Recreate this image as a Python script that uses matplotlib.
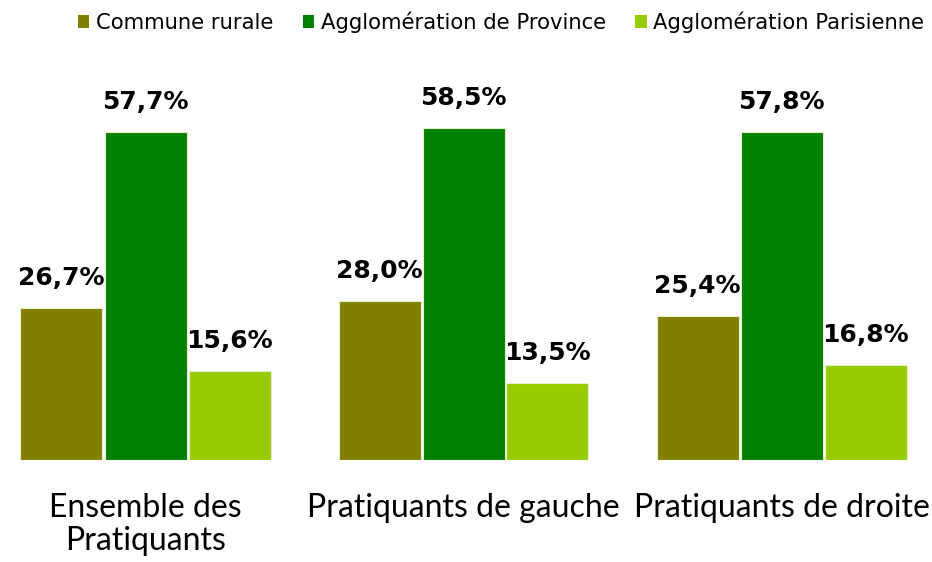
import matplotlib
matplotlib.use("Agg")
import matplotlib.pyplot as plt
import numpy as np
from matplotlib.patches import Patch

categories = ["Ensemble des\nPratiquants", "Pratiquants de gauche", "Pratiquants de droite"]
series_names = ["Commune rurale", "Agglomération de Province", "Agglomération Parisienne"]
rurale = [26.7, 28.0, 25.4]
province = [57.7, 58.5, 57.8]
parisienne = [15.6, 13.5, 16.8]
colors = ["#808000", "#008000", "#99CC00"]

fig = plt.figure(figsize=(9.32, 5.62), dpi=100)
W, H = 932, 562
left_px, right_px = 2.4, 924.6
base_px = 460
top_px = base_px - 70 * 5.68
ax = fig.add_axes([left_px / W, (H - base_px) / H, (right_px - left_px) / W, (base_px - top_px) / H])

x = np.arange(len(categories))
step = 84 / 318
width = 82 / 318
for i, (vals, c) in enumerate(zip([rurale, province, parisienne], colors)):
    pos = x + (i - 1) * step
    ax.bar(pos, vals, width, color=c, edgecolor="#e8f0c8", linewidth=0.8, label=series_names[i])
    for p, v in zip(pos, vals):
        ax.annotate(f"{v:.1f}%".replace(".", ","), (p, v), xytext=(0, 13), textcoords="offset points",
                    ha="center", va="bottom", fontsize=18, fontweight="bold", color="black")

ax.set_xlim(-0.45, 2.45)
ax.set_ylim(0, 70)
ax.set_xticks(x)
ax.set_xticklabels(categories, fontsize=23, family="Lato", linespacing=1.12)
ax.tick_params(axis="x", length=0, pad=24)
ax.set_yticks([])
for s in ax.spines.values():
    s.set_visible(False)

handles = [Patch(facecolor=c, label=n) for c, n in zip(colors, series_names)]
fig.legend(handles=handles, loc="center", bbox_to_anchor=(501 / W, 1 - 22 / H), ncol=3, frameon=False,
           fontsize=15.2, handlelength=0.55, handleheight=0.55, handletextpad=0.3, columnspacing=1.4)

fig.savefig("out.png", dpi=100)
